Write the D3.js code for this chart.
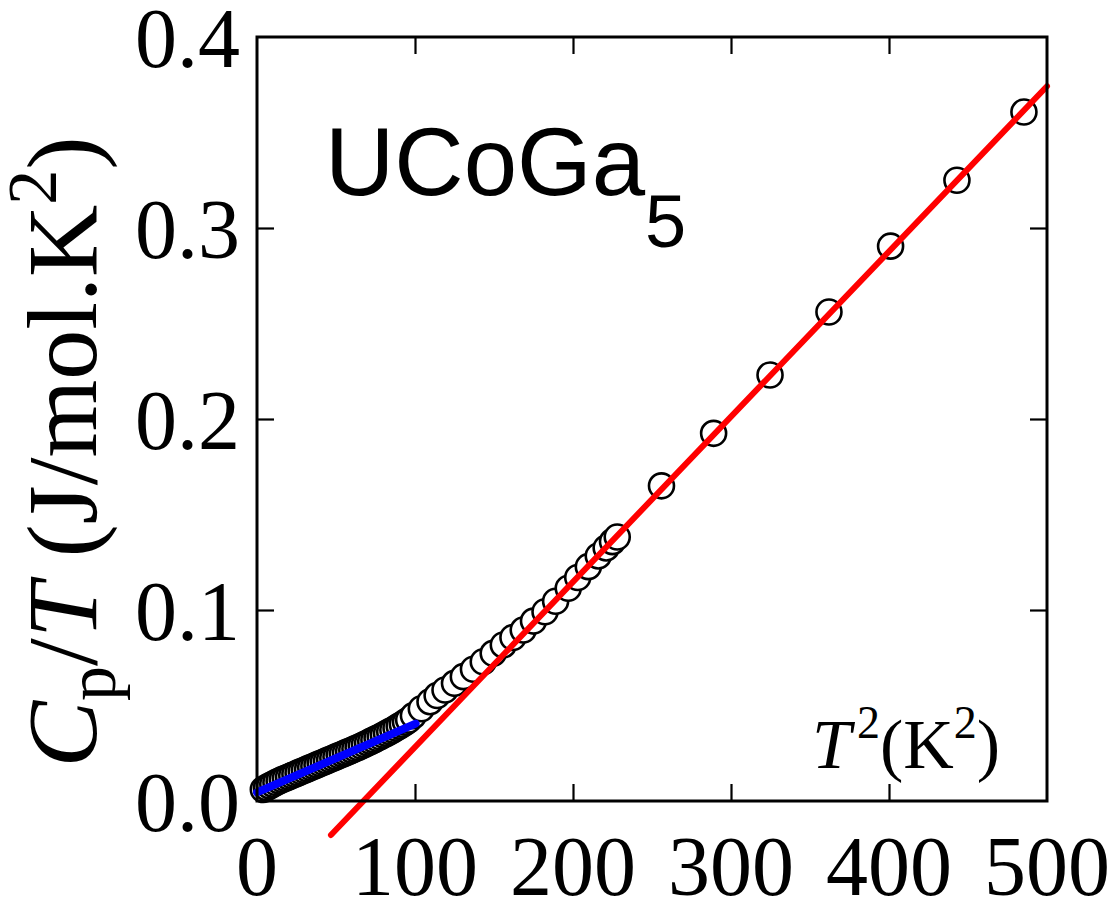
<!DOCTYPE html>
<html><head><meta charset="utf-8">
<script src="https://cdn.jsdelivr.net/npm/d3@7"></script>
<style>body{margin:0;background:#fff}</style>
</head><body><svg id="chart" width="1117" height="912"></svg>
<script>
// Specific heat of UCoGa5 plotted as Cp/T against T^2
const xTicks = [0, 100, 200, 300, 400, 500];
const xTickLabels = ["0", "100", "200", "300", "400", "500"];
const yTicks = [0, 0.1, 0.2, 0.3, 0.4];
const yTickLabels = ["0.0", "0.1", "0.2", "0.3", "0.4"];

// measured points: T^2 (K^2) and Cp/T (J/mol.K^2)
const tSquared = [
  4, 6, 8, 10, 12, 14, 16, 18, 20, 22, 24, 26, 28, 30, 32, 34, 36, 38, 40, 42,
  44, 46, 48, 50, 52, 54, 56, 58, 60, 62, 64, 66, 68, 70, 72, 74, 76, 78, 80, 82,
  84, 86, 88, 90, 92, 94, 96,
  99, 104, 109.5, 114, 119, 125, 130.6, 137, 143.2, 149.5, 155.9, 162, 168.5, 175,
  182.3, 189, 197, 203, 209.7, 216, 221, 225, 228,
  256, 289, 324.7, 362, 401, 443, 485.4
];
const cpOverT = [
  0.0060, 0.0070, 0.0079, 0.0088, 0.0097, 0.0105, 0.0112, 0.0119, 0.0126, 0.0133,
  0.0140, 0.0147, 0.0154, 0.0161, 0.0168, 0.0175, 0.0182, 0.0189, 0.0196, 0.0203,
  0.0210, 0.0217, 0.0224, 0.0231, 0.0238, 0.0245, 0.0252, 0.0259, 0.0266, 0.0273,
  0.0280, 0.0288, 0.0296, 0.0304, 0.0312, 0.0320, 0.0328, 0.0336, 0.0345, 0.0354,
  0.0363, 0.0372, 0.0382, 0.0392, 0.0402, 0.0413, 0.0424,
  0.0447, 0.0483, 0.0520, 0.0552, 0.0581, 0.0616, 0.0651, 0.0690, 0.0729, 0.0773,
  0.0817, 0.0856, 0.0895, 0.0942, 0.0991, 0.1046, 0.1114, 0.1170, 0.1227, 0.1283,
  0.1325, 0.1358, 0.1382,
  0.1650, 0.1925, 0.2230, 0.2560, 0.2905, 0.3250, 0.3607
];

// low-temperature linear fit (blue) and high-temperature linear fit (red)
const lowFitT2 = [0, 100.4];
const lowFitVal = [0.0045, 0.0405];
const highFitT2 = [46.8, 500];
const highFitVal = [-0.0178, 0.3742];

const svg = d3.select("#chart");
const plotLeft = 257, plotRight = 1047, plotTop = 37, plotBottom = 801;
const x = d3.scaleLinear().domain([0, 500]).range([plotLeft, plotRight]);
const y = d3.scaleLinear().domain([0, 0.4]).range([plotBottom, plotTop]);

svg.append("rect").attr("width", 1117).attr("height", 912).attr("fill", "#fff");

const serif = "'Liberation Serif', 'Times New Roman', serif";
const sans = "'Liberation Sans', Arial, sans-serif";

// inward ticks on all four sides
const innerX = [100, 200, 300, 400];
const innerY = [0.1, 0.2, 0.3];
const tickLen = 17;
function tickStyle(g) {
  g.select(".domain").remove();
  g.selectAll(".tick line").attr("stroke", "#000").attr("stroke-width", 2.2);
  g.selectAll(".tick text").remove();
}
svg.append("g").attr("transform", `translate(0,${plotBottom})`)
  .call(d3.axisBottom(x).tickValues(innerX).tickSize(-tickLen)).call(tickStyle);
svg.append("g").attr("transform", `translate(0,${plotTop})`)
  .call(d3.axisTop(x).tickValues(innerX).tickSize(-tickLen)).call(tickStyle);
svg.append("g").attr("transform", `translate(${plotLeft},0)`)
  .call(d3.axisLeft(y).tickValues(innerY).tickSize(-tickLen)).call(tickStyle);
svg.append("g").attr("transform", `translate(${plotRight},0)`)
  .call(d3.axisRight(y).tickValues(innerY).tickSize(-tickLen)).call(tickStyle);

// tick labels
svg.append("g").selectAll("text").data(xTicks).join("text")
  .attr("x", d => x(d)).attr("y", 895)
  .attr("text-anchor", "middle")
  .attr("font-family", serif).attr("font-size", 84)
  .text((d, i) => xTickLabels[i]);
svg.append("g").selectAll("text").data(yTicks).join("text")
  .attr("x", 240).attr("y", d => y(d)).attr("dy", "0.36em")
  .attr("text-anchor", "end")
  .attr("font-family", serif).attr("font-size", 84)
  .text((d, i) => yTickLabels[i]);

// data circles
const pts = tSquared.map((t, i) => ({ t, v: cpOverT[i] }));
svg.append("g").selectAll("circle").data(pts).join("circle")
  .attr("cx", d => x(d.t)).attr("cy", d => y(d.v)).attr("r", 12.5)
  .attr("fill", "#fff").attr("stroke", "#000").attr("stroke-width", 2.6);

// fit lines
const line = d3.line().x(d => x(d[0])).y(d => y(d[1]));
svg.append("path").datum(lowFitT2.map((t, i) => [t, lowFitVal[i]]))
  .attr("d", line).attr("fill", "none").attr("stroke", "#0000ff")
  .attr("stroke-width", 8).attr("stroke-linecap", "round");
svg.append("path").datum(highFitT2.map((t, i) => [t, highFitVal[i]]))
  .attr("d", line).attr("fill", "none").attr("stroke", "#ff0000")
  .attr("stroke-width", 6).attr("stroke-linecap", "round");

// frame
svg.append("rect").attr("x", plotLeft).attr("y", plotTop)
  .attr("width", plotRight - plotLeft).attr("height", plotBottom - plotTop)
  .attr("fill", "none").attr("stroke", "#000").attr("stroke-width", 3);

// compound label
const comp = svg.append("text").attr("x", 325).attr("y", 195)
  .attr("font-family", sans).attr("font-size", 96).attr("fill", "#000");
comp.append("tspan").text("UCoGa");
comp.append("tspan").attr("font-size", 74).attr("dy", 52).text("5");

// x-axis title inside the frame
const xt = svg.append("text").attr("x", 812).attr("y", 768)
  .attr("font-family", serif).attr("font-size", 70).attr("fill", "#000");
xt.append("tspan").attr("font-style", "italic").text("T");
xt.append("tspan").attr("font-size", 46).attr("dy", -30).attr("dx", 6).text("2");
xt.append("tspan").attr("dy", 30).text("(K");
xt.append("tspan").attr("font-size", 46).attr("dy", -30).text("2");
xt.append("tspan").attr("dy", 30).text(")");

// y-axis title
const yt = svg.append("text")
  .attr("transform", "translate(96,452) rotate(-90)")
  .attr("text-anchor", "middle")
  .attr("font-family", serif).attr("font-size", 100).attr("fill", "#000");
yt.append("tspan").attr("font-style", "italic").text("C");
yt.append("tspan").attr("font-size", 70).attr("dy", 19).text("p");
yt.append("tspan").attr("dy", -19).text("/");
yt.append("tspan").attr("font-style", "italic").text("T");
yt.append("tspan").text(" (J/mol.K");
yt.append("tspan").attr("font-size", 70).attr("dy", -40).text("2");
yt.append("tspan").attr("dy", 40).text(")");
</script>
</body></html>
